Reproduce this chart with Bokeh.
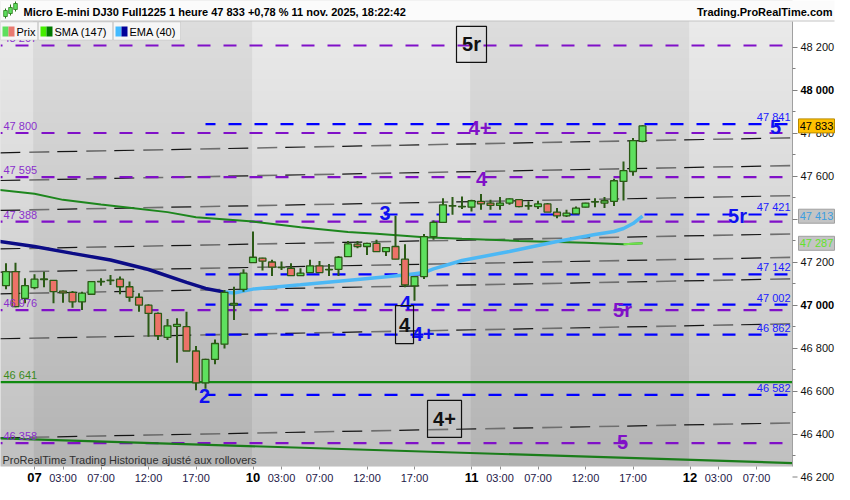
import numpy as np
from bokeh.plotting import figure
from bokeh.models import Range1d, FixedTicker, Label, BoxAnnotation, ColumnDataSource
from bokeh.core.properties import value
from bokeh.embed import file_html
from bokeh.resources import INLINE

# ---------------- data ----------------
title_text = "Micro E-mini DJ30 Full1225 1 heure 47 833 +0,78 % 11 nov. 2025, 18:22:42"
site_text = "Trading.ProRealTime.com"
footer_text = "ProRealTime Trading  Historique ajusté aux rollovers"
legend_names = ["Prix", "SMA (147)", "EMA (40)"]

# hourly bars, index 0 = 07 nov 00:00 (23 bars per trading day)
bar_idx = list(range(-3, 65))
opens = [47090, 47155, 47031, 47081, 47118, 47115, 47065, 47059, 47015, 47050,
         47108, 47114, 47120, 47085, 47036, 46999, 46961, 46849, 46901, 46899,
         46786, 46638, 46747, 46818, 47000, 47073,
         47197, 47218, 47200, 47174, 47171, 47137, 47151, 47182, 47164, 47166,
         47225, 47283, 47272, 47287, 47248, 47272, 47213, 47089, 47132, 47318,
         47384, 47460, 47457,
         47455, 47482, 47474, 47463, 47474, 47490, 47460, 47458, 47470, 47432,
         47415, 47424, 47455, 47479, 47474, 47482, 47575, 47621, 47761]
highs = [47194, 47197, 47124, 47143, 47155, 47115, 47068, 47065, 47062, 47112,
         47124, 47140, 47132, 47109, 47055, 47003, 46965, 46935, 46938, 46969,
         46809, 46750, 46840, 47070, 47085, 47166,
         47342, 47220, 47210, 47202, 47194, 47171, 47210, 47205, 47191, 47228,
         47298, 47298, 47290, 47303, 47270, 47415, 47283, 47135, 47330, 47393,
         47497, 47502, 47505,
         47490, 47516, 47490, 47502, 47497, 47492, 47482, 47485, 47474, 47451,
         47443, 47458, 47476, 47497, 47502, 47587, 47668, 47777, 47836]
lows = [47073, 46990, 47008, 47073, 47082, 47008, 47011, 46987, 46977, 47048,
        47090, 47093, 47050, 47015, 46969, 46852, 46837, 46837, 46731, 46786,
        46604, 46610, 46725, 46798, 46930, 47062,
        47195, 47160, 47135, 47163, 47137, 47137, 47151, 47151, 47135, 47135,
        47225, 47264, 47233, 47248, 47228, 47213, 47082, 47020, 47121, 47303,
        47384, 47420, 47446,
        47435, 47443, 47443, 47443, 47466, 47455, 47443, 47446, 47432, 47404,
        47409, 47424, 47453, 47455, 47451, 47461, 47486, 47601, 47757]
closes = [47155, 46992, 47090, 47120, 47121, 47062, 47056, 47015, 47055, 47109,
          47110, 47116, 47085, 47036, 46999, 46961, 46857, 46903, 46910, 46786,
          46638, 46747, 46821, 47059, 47008, 47148,
          47222, 47204, 47176, 47176, 47137, 47148, 47182, 47151, 47166, 47222,
          47284, 47272, 47287, 47248, 47267, 47213, 47093, 47132, 47318, 47384,
          47466, 47462, 47459,
          47485, 47470, 47463, 47474, 47494, 47458, 47462, 47470, 47432, 47415,
          47427, 47451, 47474, 47481, 47485, 47578, 47625, 47765, 47833]

sma_idx = [-4, 0, 3, 7, 10, 14, 17, 23, 28, 33, 36, 41, 45, 51, 58, 62, 64]
sma_val = [47537, 47517, 47489, 47467, 47452, 47432, 47408, 47388, 47362, 47339,
           47331, 47315, 47308, 47298, 47290, 47282, 47287]
ema_idx = [-4, 0, 4, 8, 12, 16, 18, 20, 21, 23, 28, 34, 39, 41, 42, 45, 50, 55, 59, 61, 62, 63, 64]
ema_val = [47298, 47272, 47240, 47209, 47165, 47105, 47077, 47060, 47056, 47074, 47094,
           47119, 47140, 47151, 47168, 47207, 47249, 47295, 47328, 47342, 47356, 47379, 47413]
ema_turn_idx = 20

purple_levels = [48207, 47800, 47595, 47388, 46976, 46358]
blue_levels = [47841, 47421, 47142, 47002, 46862, 46582]
blue_start_idx = 18
green_level = 46641
trend_idx = [-3.6, 80.3]
trend_price = [46380, 46264]
channel_idx = [-3.6, 80.3]
channel_left = [47708, 47579, 47440, 47261, 47153, 47052, 46843, 46382]
channel_right = [47778, 47649, 47509, 47331, 47222, 47122, 46913, 46452]

wave_text = ["4+", "4", "3", "5", "5r", "5r", "4", "4+", "2", "5"]
wave_idx = [46.9, 47.05, 36.9, 78.0, 74.0, 61.9, 39.05, 40.9, 17.9, 61.9]
wave_price = [47821, 47588, 47426, 47826, 47416, 46979, 47007, 46867, 46579, 46365]
wave_kind = ["p", "p", "b", "b", "b", "p", "b", "b", "b", "p"]
boxed_text = ["5r", "4", "4+"]
boxed_idx = [46.0, 38.95, 43.16]
boxed_price = [48212, 46909, 46470]

y_ticks = [46200, 46400, 46600, 46800, 47000, 47200, 47400, 47600, 47800, 48000, 48200]
y_minor = [46300, 46500, 46700, 46900, 47100, 47300, 47500, 47700, 47900, 48100]
day_ticks = [0, 23, 46, 69]
day_labels = ["07", "10", "11", "12"]
hour_ticks = [3, 7, 12, 17, 26, 30, 35, 40, 49, 53, 58, 63, 72, 76]
hour_labels = ["03:00", "07:00", "12:00", "17:00", "03:00", "07:00", "12:00", "17:00",
               "03:00", "07:00", "12:00", "17:00", "03:00", "07:00"]

# ---------------- layout / style ----------------
FONT = "Liberation Sans"
W, H = 792, 466              # frame size in px
PXB = 9.5                    # px per hourly bar
PXP = 0.215                  # px per index point
X0 = -34 / PXB
X1 = X0 + W / PXB
Y1 = 48200 + 46.5 / PXP
Y0 = Y1 - H / PXP
PURPLE = "#8010c8"
PURPLE_TXT = "#8a30cc"
BLUE = "#1010f0"
GREEN_FILL = "#5ee05e"
RED_FILL = "#ec7268"
EDGE = "#2b5a16"


def dx(px):
    return X0 + px / PXB


def dy(py):
    return Y1 - py / PXP


def fmt(v):
    v = int(round(v))
    return f"{v // 1000} {v % 1000:03d}"


p = figure(frame_width=W, frame_height=H, x_range=Range1d(X0, X1), y_range=Range1d(Y0, Y1),
           y_axis_location="right", toolbar_location=None, output_backend="svg",
           min_border_left=0, min_border_top=0, min_border_right=42, min_border_bottom=18,
           background_fill_color="#d0d0d0", border_fill_color="white", outline_line_color=None)
p.xgrid.visible = False
p.ygrid.visible = False


def hex2rgb(h):
    return np.array([int(h[i:i + 2], 16) for i in (1, 3, 5)], dtype=float)


def grad_img(top, bot, n=200):
    t = np.linspace(0, 1, n)[:, None]
    c = hex2rgb(bot)[None, :] * (1 - t) + hex2rgb(top)[None, :] * t
    img = np.zeros((n, 1), dtype=np.uint32)
    v = img.view(dtype=np.uint8).reshape((n, 1, 4))
    v[:, 0, 0:3] = np.round(c).astype(np.uint8)
    v[:, 0, 3] = 255
    return img


edges = [X0] + [d - 0.1 for d in day_ticks] + [X1]
for i in range(len(edges) - 1):
    light = (i % 2 == 0)
    img = grad_img("#ececec", "#c0c0c0") if light else grad_img("#dfdfdf", "#b3b3b3")
    p.image_rgba(image=[img], x=edges[i], y=Y0, dw=edges[i + 1] - edges[i], dh=Y1 - Y0, level="image")

# channel lines (black / grey alternating dashes)
ch_xs = [channel_idx for _ in channel_left]
ch_ys = [[a, b] for a, b in zip(channel_left, channel_right)]
p.multi_line(ch_xs, ch_ys, line_color="#151515", line_width=1.2, line_dash="20 37")
p.multi_line(ch_xs, ch_ys, line_color="#6e6e6e", line_width=1.6, line_dash="20 37", line_dash_offset=28)

# purple & blue dashed levels
p.multi_line([[X0, X1] for _ in purple_levels], [[v, v] for v in purple_levels],
             line_color=PURPLE, line_width=2.2, line_dash="13 13", line_dash_offset=11)
p.multi_line([[blue_start_idx, X1] for _ in blue_levels], [[v, v] for v in blue_levels],
             line_color="#0000ff", line_width=2.2, line_dash="13 13", line_dash_offset=3)
# green lines
p.line([X0, X1], [green_level, green_level], line_color="#118a11", line_width=2.2)
p.line(trend_idx, trend_price, line_color="#1a7d1a", line_width=2.2)

# SMA and EMA
p.line(sma_idx, sma_val, line_color="#1d861d", line_width=2)
sma_hi = [i for i, x in enumerate(sma_idx) if x >= 62]
p.line([sma_idx[i] for i in sma_hi], [sma_val[i] for i in sma_hi], line_color="#6fe34a", line_width=2)
dn = [i for i, x in enumerate(ema_idx) if x <= ema_turn_idx]
up = [i for i, x in enumerate(ema_idx) if x >= ema_turn_idx]
p.line([ema_idx[i] for i in dn], [ema_val[i] for i in dn], line_color="#0c0c86", line_width=3.5)
p.line([ema_idx[i] for i in up], [ema_val[i] for i in up], line_color="#4cb8f5", line_width=3.5)

# candles
src = ColumnDataSource(dict(
    x=bar_idx, o=opens, h=highs, l=lows, c=closes,
    top=[max(o, c) for o, c in zip(opens, closes)],
    bot=[min(o, c) for o, c in zip(opens, closes)],
    col=[GREEN_FILL if c >= o else RED_FILL for o, c in zip(opens, closes)],
))
p.segment(x0="x", y0="l", x1="x", y1="h", source=src, line_color=EDGE, line_width=2)
p.vbar(x="x", width=0.72, top="top", bottom="bot", source=src,
       fill_color="col", line_color=EDGE, line_width=1.3)

# level labels
x_left = dx(3)
p.text(x=[x_left] * len(purple_levels), y=purple_levels, text=[fmt(v) for v in purple_levels],
       text_color=PURPLE_TXT, text_font=value(FONT), text_font_size="11px",
       text_baseline="bottom", y_offset=-1)
p.text(x=[x_left], y=[green_level], text=[fmt(green_level)], text_color="#3c8a1c",
       text_font=value(FONT), text_font_size="11px", text_baseline="bottom", y_offset=-1)
p.text(x=[X1] * len(blue_levels), y=blue_levels, text=[fmt(v) for v in blue_levels],
       text_color="#2020ff", text_font=value(FONT), text_font_size="11px",
       text_align="right", text_baseline="bottom", x_offset=-2, y_offset=-1)

# wave labels
wsrc = ColumnDataSource(dict(x=wave_idx, y=wave_price, t=wave_text,
                             col=[PURPLE if k == "p" else BLUE for k in wave_kind]))
p.text(x="x", y="y", text="t", source=wsrc, text_color="col", text_font=value(FONT),
       text_font_size="20px", text_font_style="bold", text_align="center", text_baseline="middle")
p.rect(x=boxed_idx, y=boxed_price, width=[30, 18, 34], height=[36, 38, 37],
       width_units="screen", height_units="screen", fill_alpha=0, line_color="#111111", line_width=1.2)
p.text(x=boxed_idx, y=boxed_price, text=boxed_text, text_color="#111111", text_font=value(FONT),
       text_font_size="20px", text_font_style="bold", text_align="center", text_baseline="middle")

# footer note at the bottom of the chart area
p.text(x=[dx(2)], y=[dy(465)], text=[footer_text], text_font=value(FONT), text_font_size="11px",
       text_color="#303030", text_baseline="bottom")

# axes
ya = p.yaxis[0]
ya.ticker = FixedTicker(ticks=y_ticks, minor_ticks=y_minor)
ya.major_label_overrides = {t: ("" if t % 1000 == 0 else fmt(t)) for t in y_ticks}
ya.major_label_text_font = FONT
ya.major_label_text_font_size = "11px"
ya.major_label_text_color = "#111111"
ya.axis_line_color = "#a0a0a0"
ya.major_tick_line_color = "#808080"
ya.minor_tick_line_color = "#808080"
ya.major_tick_in = 0
ya.major_tick_out = 5
ya.minor_tick_in = 0
ya.minor_tick_out = 3
ya.major_label_standoff = 3
ya.bounds = (Y0, dy(21))

xa = p.xaxis[0]
xa.ticker = FixedTicker(ticks=sorted(day_ticks + hour_ticks))
ov = {t: "" for t in day_ticks}
ov.update({t: s for t, s in zip(hour_ticks, hour_labels)})
xa.major_label_overrides = ov
xa.major_label_text_font = FONT
xa.major_label_text_font_size = "11px"
xa.major_label_text_color = "#1e1848"
xa.axis_line_color = None
xa.major_tick_line_color = "#909090"
xa.major_tick_in = 0
xa.major_tick_out = 3
xa.minor_tick_line_color = None
xa.major_label_standoff = 2

# texts in the axis areas: glyphs on the overlay level (not clipped to the frame)
x_ylab = dx(W + 8)
thousands = [t for t in y_ticks if t % 1000 == 0]
p.text(x=[x_ylab] * len(thousands), y=thousands, text=[fmt(t) for t in thousands],
       text_font=value(FONT), text_font_size="11px", text_font_style="bold", text_color="#000000",
       text_baseline="middle", level="overlay")
below = [t for t in y_ticks if t < Y0]
p.text(x=[x_ylab] * len(below), y=below, text=[fmt(t) for t in below],
       text_font=value(FONT), text_font_size="11px", text_color="#111111",
       text_baseline="middle", level="overlay")
p.segment(x0=[dx(W)] * len(below), x1=[dx(W + 5)] * len(below), y0=below, y1=below,
          line_color="#808080", line_width=1, level="overlay")
p.text(x=day_ticks, y=[dy(H + 11)] * len(day_ticks), text=day_labels, text_font=value(FONT),
       text_font_size="13px", text_font_style="bold", text_color="#000000", text_align="center",
       text_baseline="middle", level="overlay")

tag_vals = [closes[-1], ema_val[-1], sma_val[-1]]
tsrc = ColumnDataSource(dict(
    x=[dx(W + 24)] * 3, y=tag_vals, t=[fmt(v) for v in tag_vals],
    bg=["#ffc000", "#c4c4c4", "#c4c4c4"], bd=["#b88a00", "#a0a0a0", "#a0a0a0"],
    fg=["#000000", "#3d9ee0", "#62e22a"]))
p.rect(x="x", y="y", width=36, height=14, width_units="screen", height_units="screen", source=tsrc,
       fill_color="bg", line_color="bd", level="overlay")
p.text(x="x", y="y", text="t", source=tsrc, text_color="fg", text_font=value(FONT),
       text_font_size="11px", text_align="center", text_baseline="middle", level="overlay")

# header bar
p.quad(left=[X0], right=[dx(834)], top=[Y1], bottom=[dy(20.5)], fill_color="#fbfbfb",
       line_color=None, level="overlay")
p.segment(x0=[X0], x1=[dx(834)], y0=[dy(20.5)], y1=[dy(20.5)], line_color="#c4c4c4",
          line_width=1, level="overlay")
icon_x = [dx(5), dx(10), dx(15)]
p.segment(x0=icon_x, x1=icon_x, y0=[dy(18), dy(15), dy(11)], y1=[dy(8), dy(4), dy(1)],
          line_color="#2a7a1a", line_width=1, level="overlay")
p.quad(left=[v - 1.8 / PXB for v in icon_x], right=[v + 1.8 / PXB for v in icon_x],
       top=[dy(10), dy(7), dy(3)], bottom=[dy(16), dy(13), dy(9)],
       fill_color="#5ee05e", line_color="#2a7a1a", line_width=0.8, level="overlay")
p.text(x=[dx(23)], y=[dy(11)], text=[title_text], text_font=value(FONT),
       text_font_size="11px", text_font_style="bold", text_color="#000000",
       text_baseline="middle", level="overlay")
p.text(x=[dx(832)], y=[dy(11)], text=[site_text], text_font=value(FONT),
       text_font_size="11px", text_font_style="bold", text_color="#000000",
       text_baseline="middle", text_align="right", level="overlay")

# legend row
legend_boxes = [(0, 37), (38, 112), (113, 180)]
swatches = [("#5ee05e", "#e87a70"), ("#44ee00", "#007a00"), ("#44bbff", "#000099")]
for (l, r), (c1, c2), name in zip(legend_boxes, swatches, legend_names):
    p.add_layout(BoxAnnotation(left=dx(l), right=dx(r), top=dy(21.5), bottom=dy(39.5),
                               fill_color="#f6f6f6", fill_alpha=1.0, line_color="#a8a8a8",
                               line_width=1, level="overlay"))
    p.add_layout(BoxAnnotation(left=dx(l + 2), right=dx(l + 8), top=dy(26), bottom=dy(36),
                               fill_color=c1, fill_alpha=1.0, line_color=None, level="overlay"))
    p.add_layout(BoxAnnotation(left=dx(l + 8), right=dx(l + 14), top=dy(26), bottom=dy(36),
                               fill_color=c2, fill_alpha=1.0, line_color=None, level="overlay"))
    p.add_layout(Label(x=l + 16, x_units="screen", y=dy(31), text=name, text_font=FONT,
                       text_font_size="11px", text_color="#000000", text_baseline="middle",
                       level="overlay"))

open("out.html", "w").write(file_html(p, INLINE))
